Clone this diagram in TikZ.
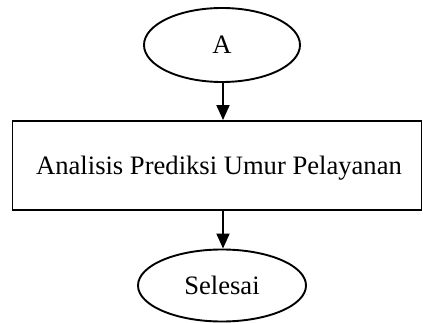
\documentclass[tikz,border=0pt]{standalone}
\usepackage{fontspec}
\setmainfont{Liberation Serif}
\usetikzlibrary{shapes.geometric,arrows.meta}
\begin{document}
\begin{tikzpicture}[x=1pt,y=-1pt,
  every node/.style={font=\fontsize{26.6}{30}\selectfont, text depth=0pt, inner sep=0pt},
  term/.style={draw, ellipse, line width=1.9pt},
  proc/.style={draw, rectangle, line width=1.9pt},
  flow/.style={line width=1.9pt, -{Triangle[length=15pt,width=13pt]}}]
\useasboundingbox (0,0) rectangle (423,323);
\node[term, minimum width=156pt, minimum height=74pt] (a) at (222,45) {A};
\node[proc, minimum width=409pt, minimum height=89pt] (p) at (217,165.5) {\hspace*{4pt}Analisis Prediksi Umur Pelayanan};
\node[term, minimum width=168pt, minimum height=72pt] (s) at (222,285.5) {Selesai};
\draw[flow] (a.south -| 223,0) -- (p.north -| 223,0);
\draw[flow] (p.south -| 223,0) -- (s.north -| 223,0);
\end{tikzpicture}
\end{document}
